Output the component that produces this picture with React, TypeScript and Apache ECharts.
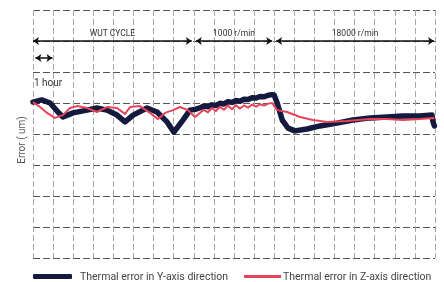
import React, { useEffect, useRef } from "react";
import * as echarts from "echarts";

// x in hours (0..20), y in grid units (0..8)
const yAxisDirX = [0, 0.43, 0.85, 1.24, 1.49, 1.99, 2.69, 3.18, 3.68, 4.18, 4.58, 4.98, 5.67, 6.17, 6.67, 7.01, 7.46, 7.81, 8.1, 8.3, 8.5, 8.7, 8.9, 9.1, 9.3, 9.5, 9.7, 9.9, 10.1, 10.3, 10.5, 10.7, 10.9, 11.1, 11.3, 11.5, 11.7, 11.9, 12.0, 12.15, 12.4, 12.69, 13.03, 13.63, 14.28, 15.12, 15.92, 16.77, 17.61, 18.41, 19.25, 19.85, 19.9, 19.97];
const yAxisDirY = [5.03, 5.1, 5.0, 4.71, 4.55, 4.68, 4.77, 4.84, 4.77, 4.61, 4.39, 4.61, 4.84, 4.71, 4.39, 4.06, 4.45, 4.77, 4.8, 4.84, 4.9, 4.88, 4.94, 4.92, 4.99, 4.97, 5.04, 5.02, 5.08, 5.06, 5.12, 5.11, 5.17, 5.16, 5.21, 5.2, 5.25, 5.27, 5.25, 5.0, 4.45, 4.19, 4.1, 4.16, 4.26, 4.35, 4.45, 4.52, 4.55, 4.58, 4.58, 4.61, 4.39, 4.26];

const zAxisDirX = [0, 0.35, 0.7, 1.09, 1.49, 1.84, 2.19, 2.69, 3.18, 3.68, 4.18, 4.58, 4.83, 5.32, 5.82, 6.22, 6.57, 6.97, 7.31, 7.71, 8.06, 8.3, 8.5, 8.7, 8.9, 9.1, 9.3, 9.5, 9.7, 9.9, 10.1, 10.3, 10.5, 10.7, 10.9, 11.1, 11.3, 11.5, 11.7, 11.9, 12.14, 12.64, 13.28, 13.93, 14.63, 15.62, 16.77, 17.61, 18.41, 19.25, 19.9, 19.97];
const zAxisDirY = [5.03, 4.87, 4.68, 4.52, 4.61, 4.84, 4.9, 4.84, 4.71, 4.87, 4.84, 4.65, 4.87, 4.9, 4.68, 4.48, 4.68, 4.77, 4.87, 4.77, 4.55, 4.68, 4.78, 4.7, 4.84, 4.74, 4.88, 4.78, 4.92, 4.8, 4.93, 4.82, 4.92, 4.85, 4.95, 4.88, 4.96, 4.92, 4.98, 5.0, 4.77, 4.71, 4.55, 4.45, 4.39, 4.42, 4.48, 4.48, 4.45, 4.48, 4.52, 4.5];

const seriesNames = ["Thermal error in Y-axis direction", "Thermal error in Z-axis direction"];
const phaseLabels = ["WUT CYCLE", "1000 r/min", "18000 r/min"];
const phaseStart = [0, 8.1, 12.1];
const phaseEnd = [7.9, 11.9, 19.95];
const phaseLevel = 7;
const hourArrow = [0.12, 0.97];
const hourLevel = 6.45;

const FONT = "Roboto";

export default function App() {
  const ref = useRef<HTMLDivElement>(null);
  useEffect(() => {
    if (!ref.current) return;
    const chart = echarts.init(ref.current, undefined, { renderer: "svg" });
    const phaseData: any[] = phaseLabels.map((name, i) => [
      { coord: [phaseStart[i], phaseLevel], name },
      { coord: [phaseEnd[i], phaseLevel] },
    ]);
    phaseData.push([
      { coord: [hourArrow[0], hourLevel], name: "", label: { show: false } },
      { coord: [hourArrow[1], hourLevel] },
    ]);
    chart.setOption({
      animation: false,
      grid: { left: 33, right: 9, top: 10, bottom: 24 },
      xAxis: {
        type: "value",
        min: 0,
        max: 20,
        interval: 1,
        axisLine: { show: false },
        axisTick: { show: false },
        axisLabel: { show: false },
        splitLine: { show: true, lineStyle: { color: "#a8a8a8", type: [6, 3], width: 1 } },
      },
      yAxis: {
        type: "value",
        min: 0,
        max: 8,
        interval: 1,
        axisLine: { show: false },
        axisTick: { show: false },
        axisLabel: { show: false },
        splitLine: { show: true, lineStyle: { color: "#555", type: [7, 3], width: 1.2 } },
      },
      legend: [
        {
          data: [seriesNames[0]],
          left: 33,
          top: 271,
          padding: 0,
          itemWidth: 39,
          itemHeight: 5,
          icon: "roundRect",
          textStyle: { fontFamily: FONT, fontSize: 10.5, color: "#444", padding: [0, 0, 0, 3] },
        },
        {
          data: [seriesNames[1]],
          left: 244,
          top: 271,
          padding: 0,
          itemWidth: 37,
          itemHeight: 3,
          icon: "rect",
          textStyle: { fontFamily: FONT, fontSize: 10.5, color: "#444", padding: [0, 0, 0, -3] },
        },
      ],
      graphic: [
        {
          type: "text",
          x: 21,
          y: 140,
          rotation: Math.PI / 2,
          style: { text: "Error ( um)", fontFamily: FONT, fontSize: 10, fill: "#555", align: "center", verticalAlign: "middle" },
        },
        {
          type: "text",
          x: 34,
          y: 82,
          style: { text: "1 hour", fontFamily: FONT, fontSize: 10, fill: "#333", align: "left", verticalAlign: "middle" },
        },
      ],
      series: [
        {
          name: seriesNames[0],
          type: "line",
          data: yAxisDirX.map((x, i) => [x, yAxisDirY[i]]),
          showSymbol: false,
          symbol: "none",
          lineStyle: { color: "#141a3e", width: 5.5, cap: "round", join: "round" },
          itemStyle: { color: "#141a3e" },
          z: 3,
          markLine: {
            silent: true,
            symbol: ["arrow", "arrow"],
            symbolSize: [6, 6],
            lineStyle: { color: "#111", width: 1.5, type: "solid" },
            label: {
              show: true,
              position: "middle",
              formatter: "{b}",
              fontFamily: FONT,
              fontSize: 8.5,
              color: "#333",
              distance: 4,
            },
            emphasis: { disabled: true },
            data: phaseData,
          },
        },
        {
          name: seriesNames[1],
          type: "line",
          data: zAxisDirX.map((x, i) => [x, zAxisDirY[i]]),
          showSymbol: false,
          symbol: "none",
          lineStyle: { color: "#e8435a", width: 2, join: "round" },
          itemStyle: { color: "#e8435a" },
          z: 4,
        },
      ],
    });
    return () => chart.dispose();
  }, []);
  return <div ref={ref} style={{ position: "fixed", left: 0, top: 0, width: 444, height: 282 }} />;
}
